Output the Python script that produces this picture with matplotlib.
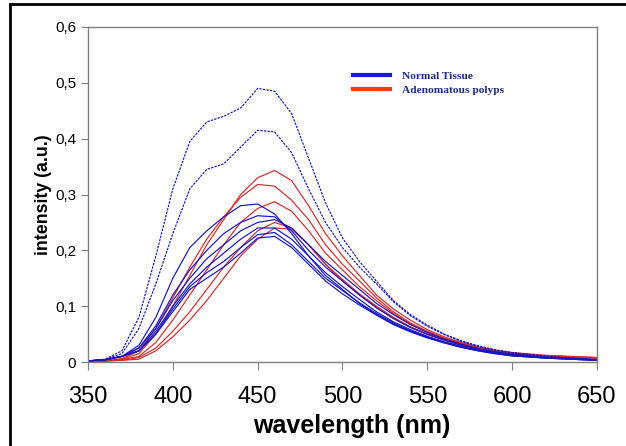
import numpy as np
import matplotlib
matplotlib.use('Agg')
import matplotlib.pyplot as plt
from matplotlib.lines import Line2D
from matplotlib.ticker import FuncFormatter

# longitudes de onda (nm)
wl = [350, 360, 370, 380, 390, 400, 410, 420, 430, 440, 450, 460, 470, 480,
      490, 500, 510, 520, 530, 540, 550, 560, 570, 580, 590, 600, 620, 650]

# tejido normal (azul)
normal_1 = [0.002, 0.005, 0.02, 0.08, 0.19, 0.31, 0.395, 0.43, 0.44, 0.455, 0.49, 0.485, 0.445, 0.365,
            0.285, 0.222, 0.18, 0.145, 0.11, 0.085, 0.066, 0.05, 0.038, 0.029, 0.022, 0.017, 0.01, 0.004]
normal_2 = [0.002, 0.004, 0.015, 0.06, 0.14, 0.23, 0.31, 0.345, 0.355, 0.385, 0.415, 0.412, 0.375, 0.31,
            0.25, 0.205, 0.17, 0.14, 0.108, 0.083, 0.064, 0.049, 0.037, 0.028, 0.021, 0.016, 0.01, 0.004]
normal_3 = [0.002, 0.004, 0.01, 0.03, 0.08, 0.15, 0.205, 0.235, 0.26, 0.28, 0.283, 0.265, 0.23, 0.19,
            0.155, 0.13, 0.105, 0.085, 0.068, 0.055, 0.044, 0.035, 0.027, 0.021, 0.016, 0.012, 0.008, 0.004]
normal_4 = [0.002, 0.004, 0.01, 0.025, 0.065, 0.12, 0.165, 0.2, 0.23, 0.25, 0.262, 0.26, 0.235, 0.2,
            0.17, 0.145, 0.12, 0.097, 0.078, 0.062, 0.05, 0.039, 0.03, 0.023, 0.018, 0.013, 0.008, 0.004]
normal_5 = [0.002, 0.004, 0.01, 0.025, 0.06, 0.11, 0.15, 0.185, 0.21, 0.235, 0.25, 0.255, 0.24, 0.21,
            0.18, 0.155, 0.13, 0.105, 0.085, 0.067, 0.053, 0.041, 0.032, 0.024, 0.018, 0.014, 0.008, 0.004]
normal_6 = [0.002, 0.004, 0.01, 0.02, 0.055, 0.1, 0.14, 0.17, 0.195, 0.22, 0.24, 0.24, 0.22, 0.19,
            0.16, 0.135, 0.112, 0.09, 0.072, 0.058, 0.046, 0.036, 0.028, 0.021, 0.016, 0.012, 0.007, 0.003]
normal_7 = [0.002, 0.004, 0.01, 0.02, 0.05, 0.095, 0.135, 0.16, 0.18, 0.205, 0.228, 0.232, 0.21, 0.18,
            0.15, 0.128, 0.106, 0.087, 0.07, 0.056, 0.045, 0.035, 0.027, 0.02, 0.015, 0.011, 0.007, 0.003]
normal_8 = [0.002, 0.004, 0.01, 0.02, 0.05, 0.09, 0.13, 0.15, 0.17, 0.195, 0.222, 0.225, 0.205, 0.175,
            0.145, 0.122, 0.102, 0.084, 0.067, 0.054, 0.043, 0.034, 0.026, 0.02, 0.015, 0.011, 0.007, 0.003]

# polipos adenomatosos (rojo)
polipo_1 = [0.001, 0.002, 0.005, 0.015, 0.05, 0.10, 0.155, 0.21, 0.255, 0.30, 0.33, 0.343, 0.325, 0.28,
            0.23, 0.19, 0.155, 0.12, 0.095, 0.075, 0.058, 0.045, 0.035, 0.027, 0.021, 0.017, 0.012, 0.008]
polipo_2 = [0.001, 0.002, 0.006, 0.02, 0.06, 0.115, 0.17, 0.22, 0.26, 0.295, 0.318, 0.315, 0.29, 0.255,
            0.21, 0.175, 0.145, 0.115, 0.09, 0.07, 0.055, 0.043, 0.034, 0.026, 0.02, 0.016, 0.011, 0.008]
polipo_3 = [0.001, 0.002, 0.004, 0.01, 0.035, 0.075, 0.12, 0.165, 0.21, 0.25, 0.275, 0.287, 0.27, 0.235,
            0.195, 0.165, 0.135, 0.11, 0.087, 0.068, 0.053, 0.042, 0.033, 0.025, 0.02, 0.016, 0.011, 0.007]
polipo_4 = [0.001, 0.002, 0.003, 0.008, 0.025, 0.055, 0.09, 0.13, 0.17, 0.205, 0.235, 0.25, 0.24, 0.21,
            0.175, 0.148, 0.122, 0.1, 0.08, 0.063, 0.05, 0.04, 0.031, 0.024, 0.019, 0.015, 0.01, 0.007]
polipo_5 = [0.001, 0.002, 0.003, 0.005, 0.02, 0.045, 0.075, 0.11, 0.15, 0.19, 0.22, 0.24, 0.238, 0.21,
            0.175, 0.145, 0.12, 0.098, 0.078, 0.062, 0.049, 0.039, 0.03, 0.023, 0.018, 0.014, 0.01, 0.007]

normales = [normal_1, normal_2, normal_3, normal_4, normal_5, normal_6, normal_7, normal_8]
polipos = [polipo_1, polipo_2, polipo_3, polipo_4, polipo_5]
etiquetas = ['Normal Tissue', 'Adenomatous polyps']

azul = '#1414c8'
rojo = '#d82828'

fig = plt.figure(figsize=(6.26, 4.46), dpi=100)
ax = fig.add_axes([88/626, 1-362/446, (597-88)/626, (362-27)/446])

for p in polipos:
    ax.plot(wl, p, color=rojo, lw=0.85)
for i, n in enumerate(normales):
    if i < 2:
        ax.plot(wl, n, color=azul, lw=0.85, ls=(0, (2, 1)))
    else:
        ax.plot(wl, n, color=azul, lw=0.85)

ax.set_xlim(350, 650)
ax.set_ylim(0, 0.6)
ax.set_xticks(range(350, 651, 50))
ax.set_yticks(np.arange(0, 0.61, 0.1))
ax.yaxis.set_major_formatter(FuncFormatter(lambda v, p: '0' if v == 0 else ('%.1f' % v).replace('.', ',')))

for s in ax.spines.values():
    s.set_color('#808080')
    s.set_linewidth(1.0)
ax.tick_params(axis='x', labelsize=17, length=6, color='#808080', pad=11)
ax.tick_params(axis='y', labelsize=11, length=5, color='#808080', pad=3.5)
for t in ax.get_xticklabels() + ax.get_yticklabels():
    t.set_family('Liberation Sans')

ax.set_xlabel('wavelength (nm)', fontsize=18, fontweight='bold', family='Liberation Sans')
ax.set_ylabel('intensity (a.u.)', fontsize=12.8, fontweight='bold', family='Liberation Sans')
ax.xaxis.set_label_coords(0.519, -0.155)
ax.yaxis.set_label_coords(-0.07, 0.5)

handles = [Line2D([], [], color='#1a1ad0', lw=3), Line2D([], [], color='#ff3a10', lw=3)]
leg = ax.legend(handles, etiquetas, loc='upper left', bbox_to_anchor=(0.5, 0.9), frameon=False,
                prop={'family': 'Liberation Serif', 'weight': 'bold', 'size': 8.2},
                handlelength=3.3, handletextpad=1.0, labelspacing=0.35)
for t in leg.get_texts():
    t.set_color('#1c2a8c')

# marco exterior (solo izquierda y arriba visibles)
fig.add_artist(Line2D([10/626, 10/626], [0, 1-4/446], color='black', lw=2, transform=fig.transFigure))
fig.add_artist(Line2D([10/626, 1], [1-4/446, 1-4/446], color='black', lw=2, transform=fig.transFigure))

fig.savefig('out.png', dpi=100)
